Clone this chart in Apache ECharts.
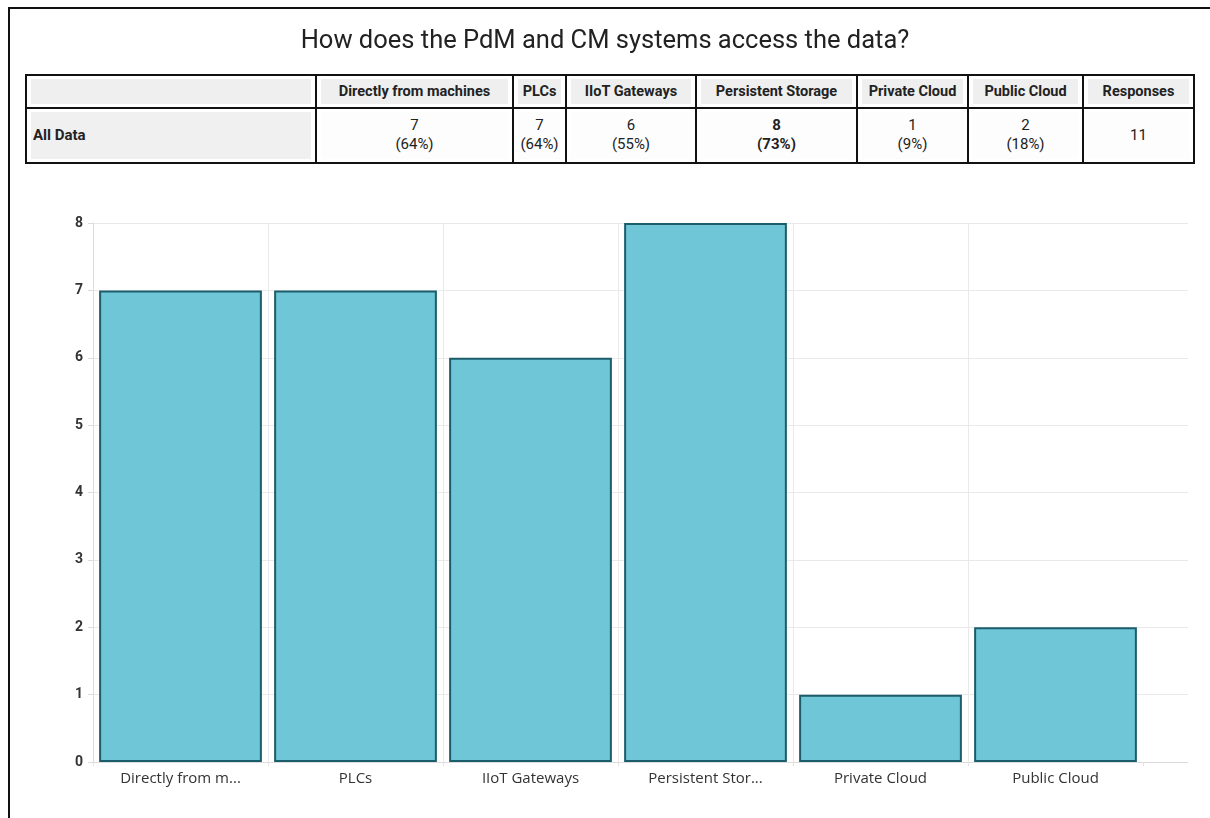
<!DOCTYPE html>
<html>
<head>
<meta charset="utf-8">
<script src="https://cdn.jsdelivr.net/npm/echarts@6/dist/echarts.min.js"></script>
<style>
  html, body { margin: 0; padding: 0; background: #fff; overflow: hidden; }
  #page { position: relative; width: 1210px; height: 818px; overflow: hidden; }
  #frame { position: absolute; left: 8px; top: 7px; width: 1240px; height: 840px;
           border-left: 2px solid #111; border-top: 2px solid #111; }
  #chart { position: absolute; left: 0; top: 0; width: 1210px; height: 818px; }
  #summary { position: absolute; left: 25px; top: 74px; width: 1168px; height: 90px;
             border-collapse: collapse; table-layout: fixed; font-family: Roboto, sans-serif;
             font-size: 15px; color: #222; z-index: 2; background: #fff; }
  #summary td { border: 2px solid #111; padding: 0; text-align: center; }
  #summary tr.head td { height: 30px; }
  #summary tr.row td { height: 52px; }
  #summary .box { margin: 3px 4px; height: calc(100% - 6px); display: flex; align-items: center;
                  justify-content: center; flex-direction: column; line-height: 19px; }
  #summary tr.head .box { background: #efefef; font-weight: bold; font-size: 14.5px; }
  #summary tr.row .box { background: #fdfdfd; }
  #summary tr.row td:first-child .box { background: #f0f0f0; align-items: flex-start;
                                        padding-left: 2px; font-weight: bold; }
  #summary .strong { font-weight: bold; }
</style>
</head>
<body>
<div id="page">
  <div id="frame"></div>
  <div id="chart"></div>
  <table id="summary"></table>
</div>
<script>
// Answer options and how many respondents picked each
const categories = ['Directly from machines', 'PLCs', 'IIoT Gateways', 'Persistent Storage', 'Private Cloud', 'Public Cloud'];
const counts = [7, 7, 6, 8, 1, 2];
const responses = 11;
const rowLabel = 'All Data';
const yTicks = [0, 1, 2, 3, 4, 5, 6, 7, 8];

// Column widths of the summary table
const colWidths = [290, 197, 53, 130, 161, 111, 115, 111];

// ---- summary table ----
const table = document.getElementById('summary');
const colgroup = document.createElement('colgroup');
colWidths.forEach(w => { const c = document.createElement('col'); c.style.width = w + 'px'; colgroup.appendChild(c); });
table.appendChild(colgroup);

function cell(tr, html, cls) {
  const td = document.createElement('td');
  const box = document.createElement('div');
  box.className = 'box' + (cls ? ' ' + cls : '');
  box.innerHTML = html;
  td.appendChild(box);
  tr.appendChild(td);
}
const head = document.createElement('tr');
head.className = 'head';
cell(head, '');
categories.forEach(c => cell(head, c));
cell(head, 'Responses');
table.appendChild(head);

const maxCount = Math.max(...counts);
const row = document.createElement('tr');
row.className = 'row';
cell(row, rowLabel);
counts.forEach(v => {
  const pct = Math.round(v / responses * 100);
  cell(row, '<div>' + v + '</div><div>(' + pct + '%)</div>', v === maxCount ? 'strong' : '');
});
cell(row, String(responses));
table.appendChild(row);

// ---- bar chart ----
const chart = echarts.init(document.getElementById('chart'), null, { renderer: 'canvas' });
const gridLine = { lineStyle: { color: '#e9e9e9', width: 1 } };
const yMin = yTicks[0], yMax = yTicks[yTicks.length - 1];

chart.setOption({
  animation: false,
  backgroundColor: 'transparent',
  title: {
    text: 'How does the PdM and CM systems access the data?',
    left: 'center',
    top: 24,
    textStyle: { fontFamily: 'Roboto', fontSize: 25.5, fontWeight: 'normal', color: '#222' }
  },
  grid: [
    { left: 93, right: 67, top: 223, bottom: 56 },
    { left: 1143, right: 22, top: 223, bottom: 56 }
  ],
  xAxis: [
    {
      type: 'category',
      gridIndex: 0,
      data: categories,
      axisLine: { lineStyle: { color: '#dcdcdc' } },
      axisTick: { show: true, length: 4, lineStyle: { color: '#e2e2e2' } },
      splitLine: { show: true, showMinLine: false, showMaxLine: false, ...gridLine },
      axisLabel: {
        margin: 9,
        fontFamily: 'Open Sans',
        fontSize: 15,
        color: '#333',
        formatter: v => v.length > 15 ? v.slice(0, 15) + '...' : v
      }
    },
    {
      type: 'category',
      gridIndex: 1,
      data: [''],
      axisLine: { lineStyle: { color: '#dcdcdc' } },
      axisTick: { show: false },
      axisLabel: { show: false },
      splitLine: { show: false }
    }
  ],
  yAxis: [
    {
      type: 'value',
      gridIndex: 0,
      min: yMin, max: yMax, interval: 1,
      axisLine: { show: true, lineStyle: { color: '#dcdcdc' } },
      axisTick: { show: true, length: 5, lineStyle: { color: '#dcdcdc' } },
      splitLine: { show: true, ...gridLine },
      axisLabel: { margin: 10, fontFamily: 'Roboto', fontSize: 14, fontWeight: 'bold', color: '#333' }
    },
    {
      type: 'value',
      gridIndex: 1,
      min: yMin, max: yMax, interval: 1,
      axisLine: { show: false },
      axisTick: { show: false },
      axisLabel: { show: false },
      splitLine: { show: true, ...gridLine }
    }
  ],
  series: [
    {
      type: 'bar',
      xAxisIndex: 0,
      yAxisIndex: 0,
      data: counts,
      barCategoryGap: '7%',
      itemStyle: { color: '#6fc6d7', borderColor: '#1c5d6c', borderWidth: 2 }
    }
  ]
});
</script>
</body>
</html>
